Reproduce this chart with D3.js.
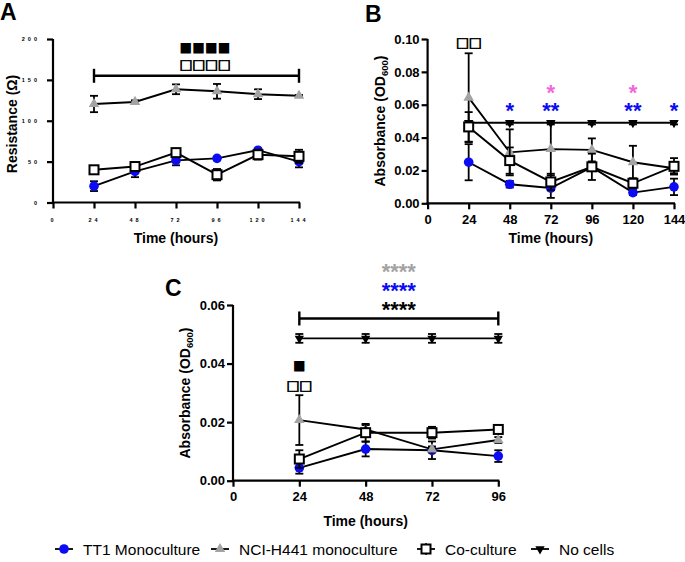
<!DOCTYPE html>
<html><head><meta charset="utf-8">
<script src="https://cdn.jsdelivr.net/npm/d3@7"></script>
<style>body{margin:0;background:#fff} svg{display:block}</style>
</head><body>
<script>
// ---------- DATA ----------
const seriesNames = ["TT1 Monoculture", "NCI-H441 monoculture", "Co-culture", "No cells"];

// Panel A: resistance (Ω)
const hoursA = [24, 48, 72, 96, 120, 144];
const aTT1 = [20, 38, 51.5, 54, 64, 50];
const aTT1Err = [6, 7, 6, 2, 2, 7];
const aH441 = [120.5, 123, 138.5, 136, 132.5, 130.5];
const aH441Err = [10, 2, 6, 9, 6, 1];
const aCo = [40, 44, 61, 34, 58.5, 56.5];
const aCoErr = [4, 3, 3, 7, 6, 8];
const aTicksY = [0, 50, 100, 150, 200];
const aTicksX = [0, 24, 48, 72, 96, 120, 144];

// Panel B: absorbance OD600
const hoursB = [24, 48, 72, 96, 120, 144];
const bTT1 = [0.025, 0.0116, 0.0093, 0.022, 0.0065, 0.010];
const bTT1Err = [0.011, 0.002, 0.006, 0.002, 0.0015, 0.005];
const bH441 = [0.0643, 0.031, 0.033, 0.0325, 0.025, 0.0213];
const bH441Err = [0.027, 0.014, 0.016, 0.007, 0.010, 0.003];
const bCo = [0.0465, 0.026, 0.013, 0.0222, 0.0122, 0.0225];
const bCoErr = [0.009, 0.008, 0.005, 0.008, 0.003, 0.005];
const bNone = [0.049, 0.049, 0.049, 0.049, 0.049, 0.049];
const bNoneErr = [0.001, 0.001, 0.001, 0.001, 0.001, 0.001];
const bTicksY = [0, 0.02, 0.04, 0.06, 0.08, 0.10];
const bTicksX = [0, 24, 48, 72, 96, 120, 144];

// Panel C: absorbance OD600
const hoursC = [24, 48, 72, 96];
const cTT1 = [0.0044, 0.0108, 0.0104, 0.0084];
const cTT1Err = [0.002, 0.0025, 0.003, 0.002];
const cH441 = [0.0207, 0.0175, 0.0107, 0.0139];
const cH441Err = [0.0085, 0.0015, 0.001, 0.001];
const cCo = [0.0074, 0.0164, 0.0164, 0.0175];
const cCoErr = [0.003, 0.003, 0.002, 0.001];
const cNone = [0.0486, 0.0486, 0.0486, 0.0486];
const cNoneErr = [0.0015, 0.0015, 0.0015, 0.0015];
const cTicksY = [0, 0.02, 0.04, 0.06];
const cTicksX = [0, 24, 48, 72, 96];

// ---------- STYLE ----------
const FONT = "'Liberation Sans', Arial, Helvetica, sans-serif";
const SYM = "'DejaVu Sans', sans-serif";
const BLUE = "#0b0bf5", GRAY = "#a3a3a3", PINK = "#f266dc";

const svg = d3.select("body").append("svg").attr("width", 685).attr("height", 562)
  .style("font-family", FONT);

function drawAxes(g, x, y, opt) {
  const xa = g.append("g").attr("transform", `translate(0,${y.range()[0]})`)
    .call(d3.axisBottom(x).tickValues(opt.ticksX).tickSize(6).tickSizeOuter(0).tickFormat(opt.fmtX || d3.format("d")));
  const ya = g.append("g").attr("transform", `translate(${x.range()[0]},0)`)
    .call(d3.axisLeft(y).tickValues(opt.ticksY).tickSize(6).tickSizeOuter(0).tickFormat(opt.fmtY));
  [xa, ya].forEach(a => {
    a.select(".domain").attr("stroke", "#000").attr("stroke-width", 2.2);
    a.selectAll(".tick line").attr("stroke", "#000").attr("stroke-width", 2.2);
    a.selectAll("text").attr("fill", "#000").style("font-family", FONT).style("font-weight", "bold")
      .style("font-size", opt.tickFont + "px");
  });
  xa.select(".domain").attr("d", `M${x.range()[0] - 1},0H${x.range()[1] + 1}`);
  ya.select(".domain").attr("d", `M0,${y.range()[0] + 1}V${y.range()[1]}`);
  if (opt.spaced) {
    xa.selectAll("text").style("letter-spacing", "3px").attr("dy", "1.9em");
    ya.selectAll("text").style("letter-spacing", "3px").attr("x", -13).attr("dy", "0.35em");
  } else {
    xa.selectAll("text").attr("dy", "0.95em").attr("y", 8);
    ya.selectAll("text").attr("x", -8);
  }
  return [xa, ya];
}

function drawSeries(g, x, y, hours, vals, errs, kind) {
  const pts = hours.map((h, i) => ({ h, v: vals[i], e: errs[i] }));
  const eb = g.append("g").attr("stroke", "#000").attr("stroke-width", 1.8).attr("fill", "none");
  pts.forEach(p => {
    const cx = x(p.h), y1 = y(p.v + p.e), y0 = y(p.v - p.e);
    eb.append("line").attr("x1", cx).attr("x2", cx).attr("y1", y1).attr("y2", y0);
    eb.append("line").attr("x1", cx - 4).attr("x2", cx + 4).attr("y1", y1).attr("y2", y1);
    eb.append("line").attr("x1", cx - 4).attr("x2", cx + 4).attr("y1", y0).attr("y2", y0);
  });
  g.append("path").datum(pts).attr("fill", "none").attr("stroke", "#000").attr("stroke-width", 1.9)
    .attr("d", d3.line().x(d => x(d.h)).y(d => y(d.v)));
  const mg = g.append("g");
  pts.forEach(p => drawMarker(mg, x(p.h), y(p.v), kind));
}

function drawMarker(g, cx, cy, kind) {
  if (kind === 0) {
    g.append("circle").attr("cx", cx).attr("cy", cy).attr("r", 4.8).attr("fill", BLUE);
  } else if (kind === 1) {
    g.append("path").attr("d", d3.symbol(d3.symbolTriangle, 48)()).attr("fill", GRAY)
      .attr("transform", `translate(${cx},${cy})`);
  } else if (kind === 2) {
    g.append("rect").attr("x", cx - 4.5).attr("y", cy - 4.5).attr("width", 9).attr("height", 9)
      .attr("fill", "#fff").attr("stroke", "#000").attr("stroke-width", 2);
  } else {
    g.append("path").attr("d", d3.symbol(d3.symbolTriangle, 38)()).attr("fill", "#000")
      .attr("transform", `translate(${cx},${cy}) rotate(180)`);
  }
}

function label(txt, xx, yy, size, opts = {}) {
  const t = svg.append("text").attr("x", xx).attr("y", yy).text(txt)
    .style("font-size", size + "px").style("font-weight", opts.weight || "bold")
    .attr("fill", opts.fill || "#000").attr("text-anchor", opts.anchor || "start");
  if (opts.family) t.style("font-family", opts.family);
  if (opts.ls) t.style("letter-spacing", opts.ls);
  if (opts.stroke) t.attr("stroke", opts.stroke).attr("stroke-width", opts.sw || 0.6);
  return t;
}

function yTitle(xx, yy, main, sub, tail) {
  const t = svg.append("text").attr("transform", `translate(${xx},${yy}) rotate(-90)`)
    .attr("text-anchor", "middle").style("font-size", "14px").style("font-weight", "bold");
  t.append("tspan").text(main);
  if (sub) {
    t.append("tspan").text(sub).style("font-size", "9.5px").attr("dy", 3);
    t.append("tspan").text(tail).attr("dy", -3);
  }
}

function bracket(x, y, h0, h1, v) {
  const g = svg.append("g").attr("stroke", "#000").attr("stroke-width", 2.4);
  g.append("line").attr("x1", x(h0)).attr("x2", x(h1)).attr("y1", y(v)).attr("y2", y(v));
  g.append("line").attr("x1", x(h0)).attr("x2", x(h0)).attr("y1", y(v) - 7).attr("y2", y(v) + 7);
  g.append("line").attr("x1", x(h1)).attr("x2", x(h1)).attr("y1", y(v) - 7).attr("y2", y(v) + 7);
}

const openSq = { anchor: "middle", family: SYM, weight: "normal", stroke: "#000", sw: 0.7 };
const fillSq = { anchor: "middle", family: SYM, weight: "normal" };

// ---------- PANEL A ----------
{
  const x = d3.scaleLinear().domain([0, 144]).range([53, 299]);
  const y = d3.scaleLinear().domain([0, 200]).range([202.5, 39]);
  const g = svg.append("g");
  drawAxes(g, x, y, { ticksX: aTicksX, ticksY: aTicksY, tickFont: 5.5, spaced: true, fmtY: d3.format("d") });
  bracket(x, y, 24, 144, 155);
  drawSeries(g, x, y, hoursA, aH441, aH441Err, 1);
  drawSeries(g, x, y, hoursA, aTT1, aTT1Err, 0);
  drawSeries(g, x, y, hoursA, aCo, aCoErr, 2);
  label("■■■■", x(89), 52, 13.5, fillSq);
  label("□□□□", x(89), 68.5, 13.5, openSq);
  label("A", 0, 20, 23);
  yTitle(17, 124, "Resistance (Ω)");
  label("Time (hours)", (x(0) + x(144)) / 2, 243, 14, { anchor: "middle" });
}

// ---------- PANEL B ----------
{
  const x = d3.scaleLinear().domain([0, 144]).range([427.6, 674]);
  const y = d3.scaleLinear().domain([0, 0.10]).range([203.3, 39]);
  const g = svg.append("g");
  drawAxes(g, x, y, { ticksX: bTicksX, ticksY: bTicksY, tickFont: 13, fmtY: d3.format(".2f") });
  drawSeries(g, x, y, hoursB, bNone, bNoneErr, 3);
  drawSeries(g, x, y, hoursB, bTT1, bTT1Err, 0);
  drawSeries(g, x, y, hoursB, bH441, bH441Err, 1);
  drawSeries(g, x, y, hoursB, bCo, bCoErr, 2);
  label("□□", x(24), 47, 13.5, openSq);
  [[48, "*"], [72, "**"], [120, "**"], [144, "*"]].forEach(([h, s]) =>
    label(s, x(h), 118, 22, { anchor: "middle", fill: BLUE }));
  [72, 120].forEach(h => label("*", x(h), 100, 22, { anchor: "middle", fill: PINK }));
  label("B", 365, 22, 23);
  yTitle(385, 121, "Absorbance (OD", "600", ")");
  label("Time (hours)", (x(0) + x(144)) / 2, 243, 14, { anchor: "middle" });
}

// ---------- PANEL C ----------
{
  const x = d3.scaleLinear().domain([0, 96]).range([233, 498.3]);
  const y = d3.scaleLinear().domain([0, 0.06]).range([480.7, 305]);
  const g = svg.append("g");
  drawAxes(g, x, y, { ticksX: cTicksX, ticksY: cTicksY, tickFont: 13, fmtY: d3.format(".2f") });
  bracket(x, y, 24, 96, 0.0554);
  drawSeries(g, x, y, hoursC, cNone, cNoneErr, 3);
  drawSeries(g, x, y, hoursC, cTT1, cTT1Err, 0);
  drawSeries(g, x, y, hoursC, cH441, cH441Err, 1);
  drawSeries(g, x, y, hoursC, cCo, cCoErr, 2);
  label("■", x(24), 370, 13.5, fillSq);
  label("□□", x(24), 390, 13.5, openSq);
  label("****", x(60), 279, 22, { anchor: "middle", fill: GRAY });
  label("****", x(60), 298, 22, { anchor: "middle", fill: BLUE });
  label("****", x(60), 317, 22, { anchor: "middle", fill: "#000" });
  label("C", 165, 296, 23);
  yTitle(190, 393, "Absorbance (OD", "600", ")");
  label("Time (hours)", (x(0) + x(96)) / 2, 526, 14, { anchor: "middle" });
}

// ---------- LEGEND ----------
{
  const items = [
    { name: seriesNames[0], kind: 0, mx: 64 },
    { name: seriesNames[1], kind: 1, mx: 220 },
    { name: seriesNames[2], kind: 2, mx: 426 },
    { name: seriesNames[3], kind: 3, mx: 540 }
  ];
  const ly = 549;
  const lg = svg.append("g");
  items.forEach(it => {
    lg.append("line").attr("x1", it.mx - 9).attr("x2", it.mx + 9).attr("y1", ly).attr("y2", ly)
      .attr("stroke", "#000").attr("stroke-width", 1.8);
    if (it.kind === 2) {
      lg.append("line").attr("x1", it.mx).attr("x2", it.mx).attr("y1", ly - 6).attr("y2", ly + 6)
        .attr("stroke", "#000").attr("stroke-width", 1.5);
    }
    drawMarker(lg, it.mx, ly, it.kind);
    lg.append("text").attr("x", it.mx + 19).attr("y", ly + 5.5).text(it.name)
      .style("font-size", "15.5px").attr("fill", "#000");
  });
}
</script>
</body></html>
